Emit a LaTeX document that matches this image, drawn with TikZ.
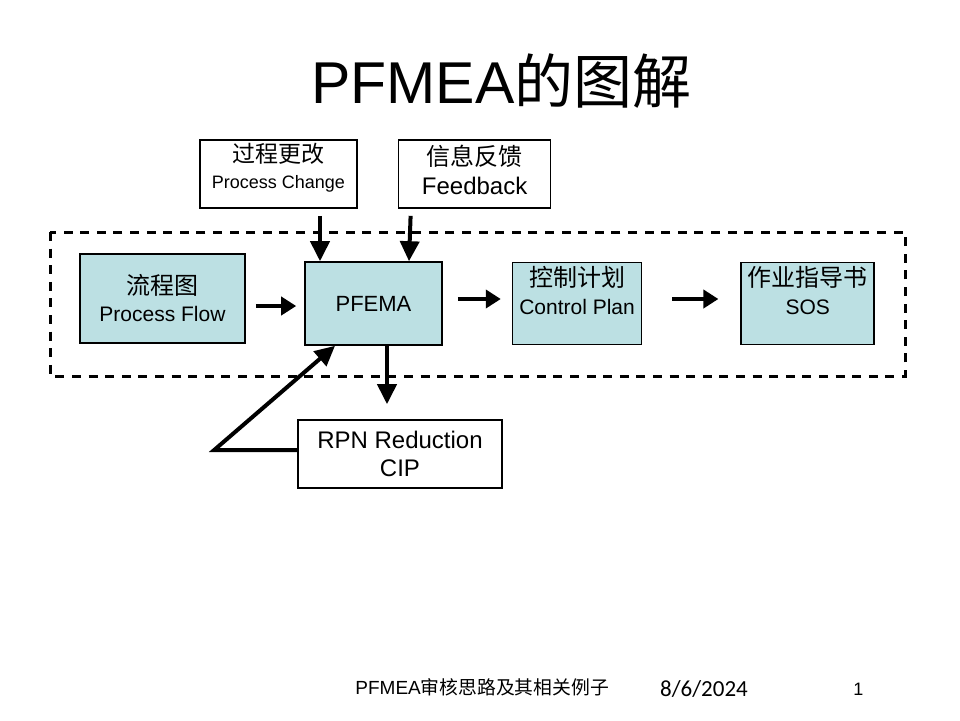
\documentclass[tikz,border=0pt]{standalone}
\usepackage{fontspec}
\setmainfont{Liberation Sans}
\newfontfamily\cjk{Noto Sans CJK SC}
\newfontfamily\datefont{Carlito}
\usepackage{xcolor}
\usepackage{tikz}
\usetikzlibrary{arrows.meta,positioning}
\definecolor{boxblue}{HTML}{BCE0E3}
\newcommand{\zh}[2][12pt]{{\cjk\fontsize{#1}{#1}\selectfont #2}}

\begin{document}
\begin{tikzpicture}
[x=0.5pt,y=-0.5pt,
blue box/.style={draw, fill=boxblue, line width=0.8pt, align=center, inner sep=0pt,
  font={\fontsize{10.5pt}{13.5pt}\selectfont}},
white box/.style={draw, fill=white, line width=0.8pt, align=center, inner sep=0pt},
box text/.style={align=center, inner sep=0pt},
fat arrow/.style={-{Triangle[length=7.5pt,width=9pt]}, line width=2pt},
down arrow/.style={fat arrow, -{Triangle[length=10pt,width=9.5pt]}},
dash frame/.style={line width=1.5pt, dash pattern=on 4.5pt off 3.8pt}]

  \useasboundingbox (0,0) rectangle (960,720);

  \node[anchor=base, font={\fontsize{29.5pt}{32pt}\selectfont}] (title) at (501.5,103) {PFMEA\zh[29.5pt]{的图解}};

  \draw[dash frame] (50,232) rectangle (905,376);

  \node[white box, minimum width=78.5pt, minimum height=34pt] (pc) at (278.5,174) {};
  \node[white box, minimum width=76pt, minimum height=34pt] (fb) [right=20pt of pc] {};
  \node[box text, font={\fontsize{9pt}{13pt}\selectfont}] (pctext) at ([yshift=3pt]pc.center) {\zh[11.5pt]{过程更改}\\Process Change};
  \node[box text, font={\fontsize{12pt}{14.5pt}\selectfont}] (fbtext) at ([yshift=2.25pt]fb.center) {\zh{信息反馈}\\Feedback};

  \node[blue box, minimum width=82.5pt, minimum height=44.5pt] (flow) at (162.5,298.5) {\zh{流程图}\\Process Flow};
  \node[blue box, minimum width=68.5pt, minimum height=41.5pt, font={\fontsize{11pt}{13pt}\selectfont}] (pfema) at (373.5,303.5) {PFEMA};
  \node[blue box, minimum width=64.5pt, minimum height=41pt] (cp) [right=34.5pt of pfema] {};
  \node[blue box, minimum width=66.5pt, minimum height=41pt] (sos) [right=49pt of cp] {};
  \node[box text, font={\fontsize{10.5pt}{14pt}\selectfont}] (cptext) at ([yshift=6.5pt]cp.center) {\zh{控制计划}\\Control Plan};
  \node[box text, font={\fontsize{10.5pt}{14pt}\selectfont}] (sostext) at ([yshift=6.5pt]sos.center) {\zh{作业指导书}\\SOS};

  \node[white box, minimum width=102pt, minimum height=34pt, font={\fontsize{12pt}{14pt}\selectfont}] (rpn) at (400,454) {RPN Reduction\\CIP};

  \draw[down arrow] ([xshift=20.75pt,yshift=-3.5pt]pc.south) -- ([xshift=-26.75pt]pfema.north);
  \draw[down arrow] ([xshift=-32pt,yshift=-3.5pt]fb.south) -- ([xshift=17.75pt]pfema.north);
  \draw[fat arrow] ([xshift=5pt,yshift=-3.75pt]flow.east) -- ([xshift=-4pt,yshift=-1.25pt]pfema.west);
  \draw[fat arrow] ([xshift=7.5pt,yshift=2.25pt]pfema.east) -- ([xshift=-5.5pt,yshift=2.25pt]cp.west);
  \draw[fat arrow] ([xshift=15pt,yshift=2.25pt]cp.east) -- ([xshift=-11pt,yshift=2.25pt]sos.west);
  \draw[down arrow] ([xshift=6.75pt]pfema.south) -- ([xshift=-6.5pt,yshift=7.5pt]rpn.north);
  \draw[down arrow] ([yshift=2pt]rpn.west) -- ++(-41.5pt,0pt) -- ([xshift=-19.25pt]pfema.south);

  \node[anchor=base west, inner sep=0pt, font={\fontsize{9.5pt}{11pt}\selectfont}] (foot) at (355,694) {PFMEA\zh[9.4pt]{审核思路及其相关例子}};
  \node[anchor=base, inner sep=0pt, font={\datefont\fontsize{11.5pt}{13pt}\selectfont}] (date) at (704,696) {8/6/2024};
  \node[anchor=base, inner sep=0pt, font={\fontsize{9pt}{11pt}\selectfont}] (page) at (858.5,695) {1};

\end{tikzpicture}
\end{document}
